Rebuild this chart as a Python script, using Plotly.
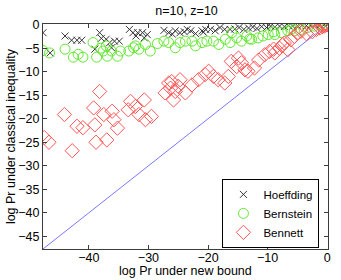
import plotly.graph_objects as go

# ---------------- data ----------------
hoeff_x = [-47.7, -46.5, -44.0, -42.9, -42.0, -41.2, -39.0, -38.2, -37.9, -37.1,
           -36.5, -36.2, -35.7, -34.9, -33.2, -32.6, -32.1, -31.8, -31.0, -30.2,
           -30.7, -27.4, -26.6, -25.5, -24.7, -24.0, -22.9, -22.1, -21.0, -20.4,
           -19.6, -18.8, -18.0, -17.2, -16.3, -15.5, -14.8, -14.0, -13.2, -12.5,
           -11.8, -11.0, -10.2, -9.5, -8.8, -8.0, -7.2, -6.5, -5.8, -5.0,
           -4.2, -3.5, -2.8, -2.0, -1.2, -0.5, 0.0, -26.0, -23.5, -20.8]
hoeff_y = [-1.7, -6.0, -2.4, -3.3, -3.3, -3.3, -5.2, -1.7, -2.9, -3.1,
           -3.8, -4.9, -3.5, -3.5, -1.0, -1.7, -2.4, -1.7, -1.7, -2.1,
           -2.8, -1.2, -1.7, -1.3, -1.7, -1.5, -1.3, -1.9, -1.3, -1.0,
           -1.0, -1.3, -0.6, -1.0, -1.0, -0.9, -0.6, -1.0, -0.7, -0.5,
           -0.8, -0.4, -0.6, -0.3, -0.5, -0.3, -0.4, -0.2, -0.3, -0.2,
           -0.1, -0.2, -0.1, -0.1, 0.0, 0.0, 0.0, -2.0, -1.0, -1.6]

bern_x = [-47.7, -46.6, -44.0, -42.6, -41.8, -41.0, -39.3, -38.7, -37.6, -37.1,
          -36.2, -35.2, -34.7, -33.3, -32.5, -32.2, -31.6, -30.5, -29.7, -27.4,
          -26.6, -25.5, -24.7, -23.8, -22.7, -22.1, -21.0, -20.2, -19.1, -18.2,
          -17.1, -16.3, -16.0, -15.2, -14.4, -13.5, -12.7, -11.6, -10.8, -9.9,
          -8.8, -7.7, -6.6, -5.5, -4.4, -3.3, -2.2, -1.1, 0.0, -38.0,
          -36.9, -28.5, -13.0, -9.0, -6.0]
bern_y = [-5.5, -6.0, -5.2, -6.9, -6.3, -6.9, -3.8, -6.9, -5.6, -4.5,
          -5.6, -6.7, -5.6, -5.6, -4.9, -4.5, -5.2, -4.2, -5.6, -3.5,
          -3.8, -4.9, -3.8, -3.5, -3.5, -4.5, -3.8, -3.5, -3.5, -4.2,
          -3.1, -3.8, -1.7, -2.8, -3.5, -2.4, -3.1, -2.8, -2.4, -2.1,
          -2.1, -1.7, -1.3, -1.3, -1.0, -0.6, -0.3, 0.0, 0.0, -5.0,
          -6.7, -4.0, -3.0, -1.5, -0.9]

benn_x = [-47.5, -46.7, -44.1, -42.8, -42.0, -41.0, -39.2, -39.0, -38.8, -38.2,
          -37.5, -37.0, -36.1, -35.8, -35.2, -33.4, -33.0, -32.2, -31.6, -30.7,
          -30.5, -29.5, -27.2, -26.6, -26.3, -26.1, -25.5, -25.0, -24.7, -25.8,
          -23.8, -22.7, -21.6, -20.5, -19.9, -19.1, -18.3, -17.2, -16.6, -16.1,
          -15.2, -14.9, -14.4, -13.8, -13.3, -12.2, -10.5, -9.7, -8.8, -8.0,
          -7.2, -6.6, -6.1, -5.5, -5.0, -4.4, -2.5, -1.8, -1.2, -0.8,
          -0.5, -0.3, -0.1, 0.0, -11.5, -9.0, -7.5, -3.5]
benn_y = [-24.0, -25.0, -19.1, -26.8, -21.6, -21.9, -17.7, -21.3, -25.0, -14.2,
          -19.1, -24.5, -18.4, -20.2, -22.0, -18.1, -16.3, -17.4, -19.1, -16.0,
          -20.2, -19.5, -14.5, -12.4, -13.5, -12.1, -14.2, -13.1, -11.7, -16.0,
          -14.5, -12.8, -11.7, -10.6, -9.9, -11.0, -11.7, -12.4, -11.0, -7.8,
          -8.9, -7.1, -8.1, -9.6, -9.9, -9.2, -6.4, -5.7, -6.0, -5.0,
          -3.9, -5.3, -3.2, -2.5, -1.8, -1.4, -1.5, -1.0, -0.7, -0.4,
          -0.3, -0.1, 0.0, 0.0, -7.5, -5.2, -4.3, -1.9]

diag_x = [-47.7, 0.0]

x_ticks = [-40, -30, -20, -10, 0]
y_ticks = [-45, -40, -35, -30, -25, -20, -15, -10, -5, 0]

# ---------------- figure ----------------
FS = 12.5
fig = go.Figure()
fig.add_trace(go.Scatter(x=diag_x, y=diag_x, mode="lines",
                         line=dict(color="rgb(120,120,255)", width=1),
                         showlegend=False, hoverinfo="skip"))
fig.add_trace(go.Scatter(x=hoeff_x, y=hoeff_y, mode="markers", name="Hoeffding",
                         marker=dict(symbol="x-thin-open", size=7,
                                     color="rgb(55,55,55)",
                                     line=dict(width=1, color="rgb(55,55,55)"))))
fig.add_trace(go.Scatter(x=bern_x, y=bern_y, mode="markers", name="Bernstein",
                         marker=dict(symbol="circle-open", size=10,
                                     color="rgb(100,232,50)",
                                     line=dict(width=1))))
fig.add_trace(go.Scatter(x=benn_x, y=benn_y, mode="markers", name="Bennett",
                         marker=dict(symbol="diamond-open", size=11,
                                     color="rgb(255,85,85)",
                                     line=dict(width=1))))

axis_common = dict(showgrid=False, zeroline=False, showline=True, mirror="ticks",
                   linecolor="rgb(60,60,60)", linewidth=1, ticks="inside",
                   ticklen=4, tickcolor="rgb(60,60,60)",
                   tickfont=dict(size=FS, color="black"))

fig.update_layout(
    width=341, height=280,
    margin=dict(l=43, r=10.5, t=24, b=31),
    paper_bgcolor="white", plot_bgcolor="white",
    font=dict(family="Liberation Sans, Arial, sans-serif", size=FS, color="black"),
    title=dict(text="n=10, z=10", x=0.547, xanchor="center", y=0.962, yanchor="middle",
               font=dict(size=FS)),
    xaxis=dict(range=[-47.7, 0.13], tickvals=x_ticks, ticklabelstandoff=-3,
               **axis_common),
    yaxis=dict(range=[-47.7, 0.15], tickvals=y_ticks, **axis_common),
    legend=dict(x=0.97, y=0.005, xanchor="right", yanchor="bottom",
                bgcolor="white", bordercolor="black", borderwidth=1,
                font=dict(size=11.5), itemsizing="trace",
                tracegroupgap=0, itemwidth=30),
    showlegend=True,
    annotations=[
        dict(text="log Pr under new bound", xref="paper", yref="paper",
             x=0.5, y=-0.0964, xanchor="center", yanchor="middle",
             showarrow=False, font=dict(size=FS)),
        dict(text="log Pr under classical inequality", xref="paper", yref="paper",
             x=-0.1136, y=0.5, xanchor="center", yanchor="middle", textangle=-90,
             showarrow=False, font=dict(size=FS)),
    ],
)

fig.write_html("out.html", config={"displayModeBar": False},
               post_script="document.body.style.margin='0';document.body.style.overflow='hidden';")
